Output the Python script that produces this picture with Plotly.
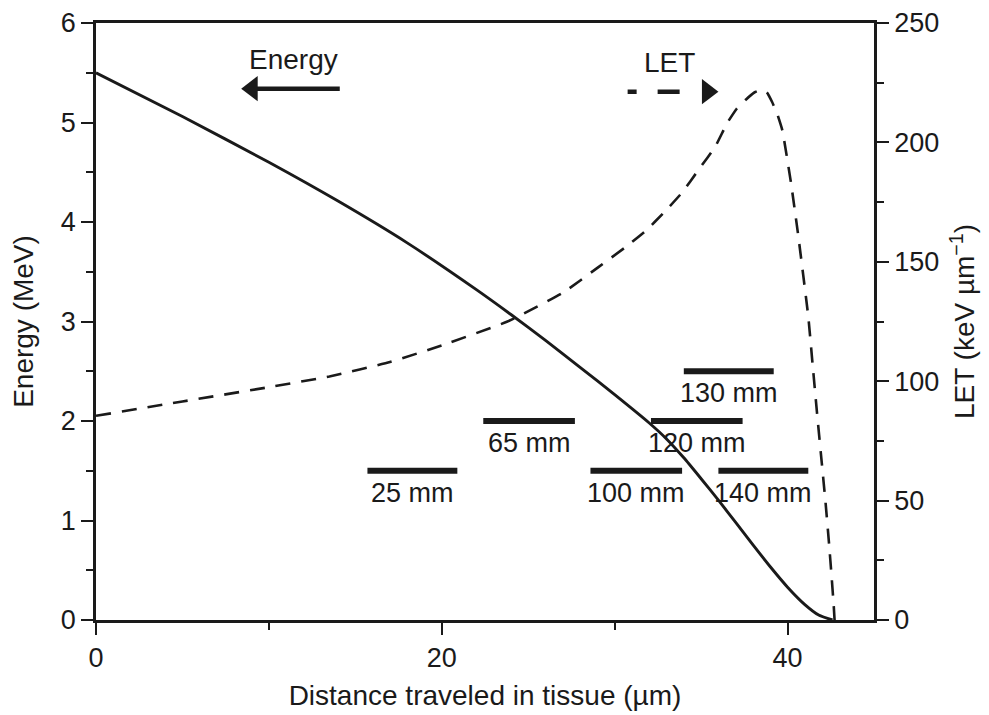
import plotly.graph_objects as go

# ---- data ----
energy_x = [0, 5, 10, 14, 18, 22, 24, 26, 28, 30, 32, 33, 34, 35, 36, 37, 38, 39,
            40, 41, 41.8, 42.6]
energy_mev = [5.5, 5.06, 4.60, 4.21, 3.79, 3.32, 3.07, 2.81, 2.54, 2.265, 1.98, 1.82,
              1.63, 1.42, 1.205, 0.98, 0.755, 0.535, 0.33, 0.155, 0.05, 0.0]

let_x = [0, 5, 10, 13.5, 17, 20, 23.8, 27, 29.1, 30.6, 31.8, 32.9, 33.9, 34.9, 35.8,
         36.5, 37.05, 37.6, 38.1, 38.5, 38.8, 39.1, 39.4, 39.7, 40.2, 40.6, 41.2,
         41.45, 41.7, 41.95, 42.2, 42.4, 42.55, 42.67, 42.72]
let_kev = [85.5, 91.5, 97.5, 102, 108, 115, 125, 137, 148, 156, 163, 171, 179, 189, 198,
           208, 214, 218, 221, 222, 221, 217, 212, 205, 183, 162, 127,
           107, 87, 68, 49, 32, 18, 6, 0]

bar_labels = ["25 mm", "65 mm", "100 mm", "120 mm", "130 mm", "140 mm"]
bar_start = [15.7, 22.4, 28.6, 32.1, 34.0, 36.0]
bar_end = [20.9, 27.7, 33.9, 37.4, 39.2, 41.2]
bar_energy = [1.5, 2.0, 1.5, 2.0, 2.5, 1.5]

x_ticks = [0, 20, 40]
y_ticks = [0, 1, 2, 3, 4, 5, 6]
y2_ticks = [0, 50, 100, 150, 200, 250]

# key arrows (data units): tail, tip, level (left axis)
energy_arrow = dict(tail=14.1, tip=8.3, level=5.34, label="Energy", label_x=11.4, label_y=5.63)
let_arrow = dict(tail=30.75, tip=36.1, level=5.31, label="LET", label_x=33.2, label_y=5.6)

FONT = "Liberation Sans, Arial, sans-serif"
BLACK = "#1a1a1a"

fig = go.Figure()

fig.add_trace(go.Scatter(
    x=energy_x, y=energy_mev, mode="lines",
    line=dict(color=BLACK, width=2.9, shape="spline", smoothing=0.6),
    showlegend=False, hoverinfo="skip"))

fig.add_trace(go.Scatter(
    x=let_x, y=let_kev, mode="lines", yaxis="y2",
    line=dict(color=BLACK, width=2.6, dash="15px,11px", shape="spline", smoothing=0.4),
    showlegend=False, hoverinfo="skip"))

for lab, xs, xe, e in zip(bar_labels, bar_start, bar_end, bar_energy):
    fig.add_trace(go.Scatter(
        x=[xs, xe], y=[e, e], mode="lines",
        line=dict(color=BLACK, width=6),
        showlegend=False, hoverinfo="skip"))
    fig.add_annotation(
        x=(xs + xe) / 2, y=e, text=lab, showarrow=False, yshift=-22,
        font=dict(family=FONT, size=27, color=BLACK))

# px -> data conversion for arrowhead placement (x range 45 over 778 px)
PX = 45 / 778.0
HEAD = 22  # marker size
head_off = (HEAD / 2) * 2 / 3 ** 0.5 * PX  # centre offset from the tip

# Energy key arrow (solid, pointing left)
ea = energy_arrow
fig.add_trace(go.Scatter(
    x=[ea["tail"], ea["tip"] + head_off], y=[ea["level"], ea["level"]], mode="lines",
    line=dict(color=BLACK, width=4.5), showlegend=False, hoverinfo="skip"))
fig.add_trace(go.Scatter(
    x=[ea["tip"] + head_off], y=[ea["level"]], mode="markers",
    marker=dict(symbol="triangle-left", size=HEAD, color=BLACK, line=dict(width=0)),
    showlegend=False, hoverinfo="skip"))
fig.add_annotation(
    x=ea["label_x"], y=ea["label_y"], text=ea["label"], showarrow=False,
    font=dict(family=FONT, size=28, color=BLACK))

# LET key arrow (dashed, pointing right)
la = let_arrow
fig.add_trace(go.Scatter(
    x=[la["tail"], la["tip"] - head_off - 0.5], y=[la["level"], la["level"]], mode="lines",
    line=dict(color=BLACK, width=4.5, dash="9px,21px,22px,200px"),
    showlegend=False, hoverinfo="skip"))
fig.add_trace(go.Scatter(
    x=[la["tip"] - head_off], y=[la["level"]], mode="markers",
    marker=dict(symbol="triangle-right", size=HEAD, color=BLACK, line=dict(width=0)),
    showlegend=False, hoverinfo="skip"))
fig.add_annotation(
    x=la["label_x"], y=la["label_y"], text=la["label"], showarrow=False,
    font=dict(family=FONT, size=28, color=BLACK))

axis_common = dict(
    showgrid=False, zeroline=False, showline=True, linecolor=BLACK, linewidth=2.6,
    ticks="outside", ticklen=12, tickwidth=2.4, tickcolor=BLACK, automargin=False,
    tickfont=dict(family=FONT, size=27, color=BLACK),
)

fig.update_layout(
    width=989, height=715,
    margin=dict(l=88, r=123, t=15, b=103),
    paper_bgcolor="white", plot_bgcolor="white",
    xaxis=dict(
        range=[0, 45], tickvals=x_ticks, mirror=True,
        minor=dict(dtick=10, tick0=0, ticks="outside", ticklen=7, tickwidth=2.2, tickcolor=BLACK),
        title=dict(text="Distance traveled in tissue (µm)", standoff=14,
                   font=dict(family=FONT, size=28, color=BLACK)),
        **axis_common),
    yaxis=dict(
        range=[0, 6], tickvals=y_ticks,
        minor=dict(dtick=0.5, tick0=0, ticks="outside", ticklen=7, tickwidth=2.2, tickcolor=BLACK),
        title=dict(text="Energy (MeV)", standoff=19,
                   font=dict(family=FONT, size=28, color=BLACK)),
        **axis_common),
    yaxis2=dict(
        range=[0, 250], tickvals=y2_ticks, overlaying="y", side="right",
        minor=dict(dtick=25, tick0=0, ticks="outside", ticklen=7, tickwidth=2.2, tickcolor=BLACK),
        title=dict(text="LET (keV µm<sup>−1</sup>)", standoff=17,
                   font=dict(family=FONT, size=28, color=BLACK)),
        **axis_common),
)

fig.write_html("out.html")
